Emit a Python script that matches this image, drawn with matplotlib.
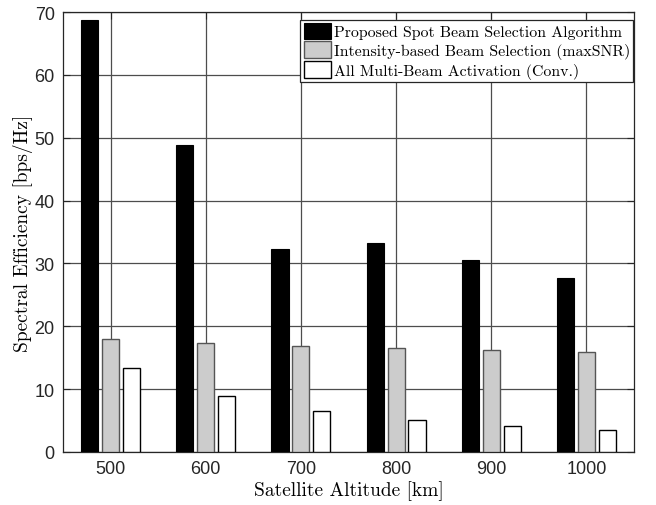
import numpy as np
import matplotlib.pyplot as plt

altitudes = [500, 600, 700, 800, 900, 1000]
proposed = [68.8, 48.8, 32.3, 33.2, 30.5, 27.7]
max_snr = [17.9, 17.35, 16.9, 16.5, 16.2, 15.9]
all_beams = [13.3, 8.9, 6.5, 5.1, 4.2, 3.5]
labels = ['Proposed Spot Beam Selection Algorithm',
          'Intensity-based Beam Selection (maxSNR)',
          'All Multi-Beam Activation (Conv.)']

plt.rcParams['axes.unicode_minus'] = False
serif = {'family': 'cmr10'}

fig = plt.figure(figsize=(6.56, 5.06), dpi=100)
ax = fig.add_axes([63 / 656, 53 / 506, 571 / 656, 440 / 506])

x = np.array(altitudes, dtype=float)
w = 18
ax.bar(x - 22, proposed, w, color='black', edgecolor='black', linewidth=0.8, label=labels[0], zorder=3)
ax.bar(x, max_snr, w, color='#cccccc', edgecolor='#555555', linewidth=1.0, label=labels[1], zorder=3)
ax.bar(x + 22, all_beams, w, color='white', edgecolor='black', linewidth=1.0, label=labels[2], zorder=3)

ax.set_xlim(450, 1050)
ax.set_ylim(0, 70)
ax.set_xticks(altitudes)
ax.set_yticks(np.arange(0, 71, 10))
ax.grid(True, color='#4d4d4d', linewidth=0.9, zorder=0)
ax.set_axisbelow(True)

ax.tick_params(direction='in', length=5, width=0.8, top=True, right=True,
               labelsize=13, color='#262626', pad=6)
for t in ax.get_xticklabels() + ax.get_yticklabels():
    t.set_family('Liberation Sans')
    t.set_color('#262626')
for s in ax.spines.values():
    s.set_color('#262626')
    s.set_linewidth(0.9)

ax.set_xlabel('Satellite Altitude [km]', fontsize=14, labelpad=2, **serif)
ax.set_ylabel('Spectral Efficiency [bps/Hz]', fontsize=14, **serif)
ax.yaxis.set_label_coords(-0.053, 0.5)

leg = ax.legend(loc='upper right', bbox_to_anchor=(633 / 656, 1 - 20.5 / 506),
                bbox_transform=fig.transFigure, borderaxespad=0,
                prop={'family': 'cmr10', 'size': 11.4},
                fancybox=False, framealpha=1, edgecolor='#262626',
                borderpad=0.2, labelspacing=0.12,
                handlelength=1.75, handleheight=1.25, handletextpad=0.15)
leg.get_frame().set_linewidth(0.9)

fig.savefig('out.png', dpi=100)
